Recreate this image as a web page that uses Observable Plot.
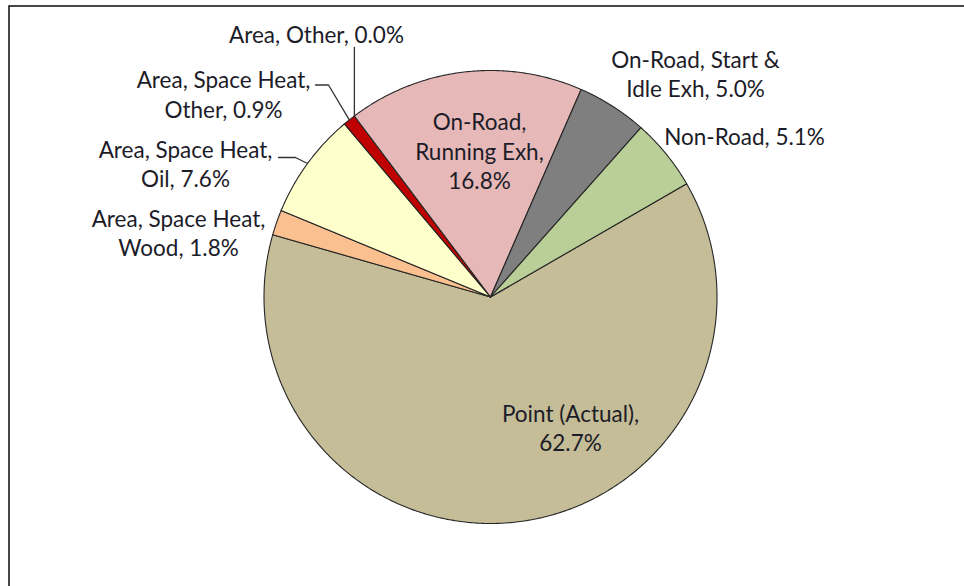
<!DOCTYPE html>
<html>
<head>
<meta charset="utf-8">
<script src="https://cdn.jsdelivr.net/npm/d3@7"></script>
<script src="https://cdn.jsdelivr.net/npm/@observablehq/plot@0.6"></script>
<style>
  html, body { margin: 0; padding: 0; background: #fff; overflow: hidden; }
</style>
</head>
<body>
<div id="chart"></div>
<script>
// ---- Data (clockwise order) ----
const categories = [
  "Point (Actual)",
  "Area, Space Heat, Wood",
  "Area, Space Heat, Oil",
  "Area, Space Heat, Other",
  "Area, Other",
  "On-Road, Running Exh",
  "On-Road, Start & Idle Exh",
  "Non-Road"
];
const shares = [62.7, 1.8, 7.6, 0.9, 0.0, 16.8, 5.0, 5.1];
const labelTexts = [
  "Point (Actual),\n62.7%",
  "Area, Space Heat,\nWood, 1.8%",
  "Area, Space Heat,\nOil, 7.6%",
  "Area, Space Heat,\nOther, 0.9%",
  "Area, Other, 0.0%",
  "On-Road,\nRunning Exh,\n16.8%",
  "On-Road, Start &\nIdle Exh, 5.0%",
  "Non-Road, 5.1%"
];
const sliceColors = ["#c4bd97", "#fac090", "#ffffcc", "#c00000", "#4f81bd", "#e6b9b8", "#7f7f7f", "#b9cf97"];

// ---- Layout ----
const W = 964, H = 586;
const cx = 490, cy = 296.5, R = 226.5;
const firstSliceAngle = 60; // degrees, clockwise from 12 o'clock
// label block centres (manually placed labels, as in the source chart)
const labelPos = [
  [570, 426.5], [178, 231.5], [185, 162.5], [223, 93], [316, 33],
  [479, 150], [695, 72.5], [744, 135]
];
// leader line elbows for the labels that have them (slice index -> start points)
const leaderStarts = {
  4: "edgeVertical",
  3: [[315, 84.5], [328, 84.5]],
  2: [[278, 157], [295, 157]]
};

const rad = d => d * Math.PI / 180;
const arcs = d3.pie().sort(null).value(d => d)
  .startAngle(rad(firstSliceAngle)).endAngle(rad(firstSliceAngle + 360))(shares);

const pt = (a, r) => ({x: cx + r * Math.sin(a), y: cy - r * Math.cos(a)});

// slice polygons
const polyRows = [];
arcs.forEach((a, i) => {
  const name = categories[i];
  const c = pt(0, 0);
  polyRows.push({name, ...c});
  const n = Math.max(2, Math.ceil((a.endAngle - a.startAngle) / rad(0.5)));
  for (let k = 0; k <= n; k++) {
    const t = a.startAngle + (a.endAngle - a.startAngle) * k / n;
    polyRows.push({name, ...pt(t, R)});
  }
  polyRows.push({name, ...c});
});

// labels
const labelRows = categories.map((name, i) => ({
  name, text: labelTexts[i], x: labelPos[i][0], y: labelPos[i][1]
}));

// leader lines
const leaderRows = [];
Object.entries(leaderStarts).forEach(([k, spec]) => {
  const i = +k, a = arcs[i];
  const mid = (a.startAngle + a.endAngle) / 2;
  const e = pt(mid, R);
  if (spec === "edgeVertical") {
    leaderRows.push({id: i, x: e.x, y: 47});
  } else {
    spec.forEach(([x, y]) => leaderRows.push({id: i, x, y}));
  }
  leaderRows.push({id: i, ...e});
});

const font = "Lato, 'Open Sans', sans-serif";
const plot = Plot.plot({
  width: W, height: H,
  margin: 0,
  x: {domain: [0, W], axis: null},
  y: {domain: [0, H], reverse: true, axis: null},
  color: {domain: categories, range: sliceColors},
  style: {fontFamily: font, overflow: "hidden", background: "#fff"},
  marks: [
    Plot.frame({stroke: "#1a1a1a", strokeWidth: 1.6, insetLeft: 8.5, insetTop: 5.5, insetRight: -10, insetBottom: -10}),
    Plot.line(polyRows, {x: "x", y: "y", z: "name", fill: "name", stroke: "#262626", strokeWidth: 1.1, curve: "linear", strokeLinejoin: "round"}),
    Plot.line(leaderRows, {x: "x", y: "y", z: "id", stroke: "#333", strokeWidth: 1.3, curve: "linear"}),
    Plot.text(labelRows, {x: "x", y: "y", text: "text", fontSize: 22.5, lineHeight: 1.31, fill: "#1c1c28", fontFamily: font})
  ]
});
document.getElementById("chart").appendChild(plot);
</script>
</body>
</html>
